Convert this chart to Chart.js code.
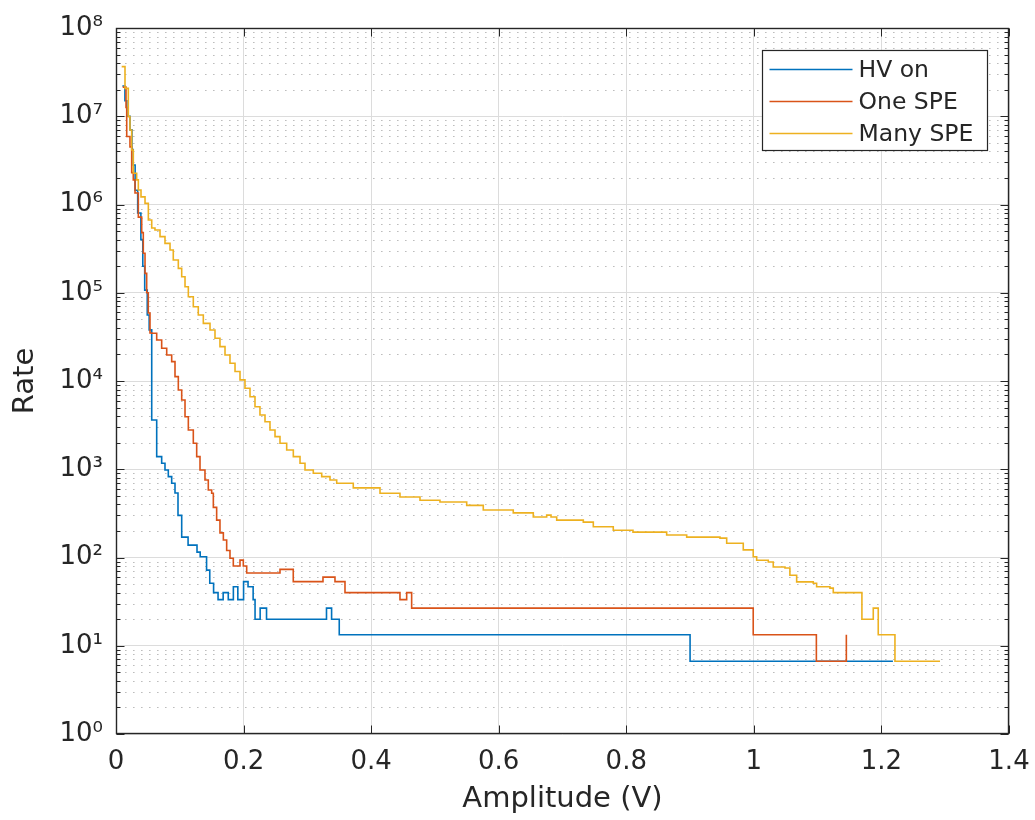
<!DOCTYPE html>
<html>
<head>
<meta charset="utf-8">
<script src="https://cdn.jsdelivr.net/npm/chart.js@4.4.1/dist/chart.umd.min.js"></script>
<style>
html,body{margin:0;padding:0;background:#ffffff;}
#wrap{width:1035px;height:820px;position:relative;}
</style>
</head>
<body>
<div id="wrap"><canvas id="c" width="1035" height="820"></canvas></div>
<script>
// ---------- data ----------
const seriesLabels = ['HV on', 'One SPE', 'Many SPE'];
const seriesColors = ['#0072BD', '#D95319', '#EDB120'];

const hvX = [0.010, 0.014, 0.017, 0.022, 0.025, 0.027, 0.030, 0.034, 0.039, 0.042, 0.045, 0.049, 0.052, 0.056, 0.0638, 0.0716, 0.0768, 0.082, 0.0873, 0.0925, 0.0972, 0.103, 0.113, 0.127, 0.132, 0.142, 0.147, 0.153, 0.160, 0.168, 0.176, 0.184, 0.191, 0.200, 0.207, 0.215, 0.218, 0.226, 0.236, 0.330, 0.338, 0.350, 0.900, 1.218];
const hvY = [2.2e7, 1.5e7, 1.0e7, 7e6, 4.2e6, 2.8e6, 1.45e6, 8e5, 4e5, 2e5, 1.07e5, 5.6e4, 3.8e4, 3610, 1390, 1170, 981, 824, 693, 538, 300, 170, 138, 115, 102, 72, 51, 40, 33.3, 40, 33.3, 46.7, 33.3, 53.3, 46.7, 33.3, 20, 26.7, 20, 26.7, 20, 13.3, 6.67, 6.67];

const oneX = [0.0105, 0.0157, 0.0168, 0.0219, 0.0246, 0.0271, 0.0298, 0.035, 0.0403, 0.0428, 0.0455, 0.0481, 0.0506, 0.0533, 0.056, 0.0638, 0.0716, 0.0795, 0.0873, 0.0925, 0.0977, 0.103, 0.1082, 0.1134, 0.1212, 0.1265, 0.1317, 0.1395, 0.1447, 0.15, 0.1526, 0.1578, 0.163, 0.1683, 0.1735, 0.1787, 0.1839, 0.1944, 0.1996, 0.2049, 0.2571, 0.2779, 0.3245, 0.3433, 0.359, 0.4452, 0.4557, 0.4635, 0.999, 1.098, 1.145];
const oneY = [2.14e7, 1.26e7, 5.9e6, 4.5e6, 2.3e6, 1.9e6, 1.35e6, 7.2e5, 4.8e5, 2.8e5, 1.66e5, 1e5, 5.9e4, 3.5e4, 3.47e4, 2.92e4, 2.35e4, 1.97e4, 1.66e4, 1.12e4, 7900, 6100, 3940, 2790, 1970, 1390, 981, 755, 582, 534, 370, 265, 190, 158, 120, 98, 80, 93.3, 80, 66.7, 73.3, 53.3, 60, 53.3, 40, 33.3, 40, 26.7, 13.3, 6.67, 13.3];

const manyX = [0.0089, 0.0141, 0.0193, 0.0219, 0.0246, 0.0271, 0.0324, 0.035, 0.0392, 0.0455, 0.0507, 0.056, 0.0611, 0.069, 0.0768, 0.0847, 0.0898, 0.0977, 0.103, 0.1082, 0.1134, 0.1212, 0.129, 0.1369, 0.1474, 0.1552, 0.163, 0.1709, 0.1787, 0.1866, 0.1944, 0.2022, 0.2101, 0.2179, 0.2257, 0.2336, 0.2414, 0.2493, 0.2571, 0.2676, 0.278, 0.2885, 0.2963, 0.3093, 0.3225, 0.3355, 0.346, 0.372, 0.4139, 0.4452, 0.4766, 0.5079, 0.5498, 0.5758, 0.6228, 0.6542, 0.6752, 0.682, 0.6909, 0.7326, 0.7483, 0.7796, 0.8105, 0.8633, 0.8947, 0.9469, 0.9574, 0.9834, 0.999, 1.0044, 1.0226, 1.0304, 1.0488, 1.0565, 1.0671, 1.0931, 1.0984, 1.1193, 1.1245, 1.1694, 1.1872, 1.195, 1.2212, 1.2918];
const manyY = [3.65e7, 2.07e7, 9.9e6, 6.98e6, 4.15e6, 2.26e6, 1.9e6, 1.46e6, 1.22e6, 1.03e6, 6.67e5, 5.42e5, 5.14e5, 4.32e5, 3.63e5, 3.05e5, 2.35e5, 1.89e5, 1.52e5, 1.17e5, 9.0e4, 6.95e4, 5.6e4, 4.5e4, 3.78e4, 3.05e4, 2.45e4, 1.97e4, 1.59e4, 1.28e4, 1.03e4, 8270, 6630, 5110, 4120, 3460, 2790, 2340, 1970, 1650, 1390, 1170, 981, 900, 824, 755, 693, 615, 535, 485, 445, 425, 390, 345, 320, 288, 302, 288, 265, 252, 223, 204, 194, 180, 170, 166, 145, 122, 102, 93, 89, 78, 76, 63, 53, 51, 46.7, 45, 40, 20, 26.7, 13.3, 6.67, 6.67];

const xTickValues = [0, 0.2, 0.4, 0.6, 0.8, 1.0, 1.2, 1.4];
const yTickExponents = [0, 1, 2, 3, 4, 5, 6, 7, 8];
const xTitle = 'Amplitude (V)';
const yTitle = 'Rate';

// ---------- helpers ----------
const FONT = 'DejaVu Sans';
const TEXT = '#262626';
const SUP = {'0':'\u2070','1':'\u00B9','2':'\u00B2','3':'\u00B3','4':'\u2074','5':'\u2075','6':'\u2076','7':'\u2077','8':'\u2078','9':'\u2079'};
function toPoints(xs, ys) { return xs.map((x, i) => ({x: x, y: ys[i]})); }
function supText(n) { return String(n).split('').map(c => SUP[c] || c).join(''); }

const matlabAxes = {
  id: 'matlabAxes',
  beforeDatasetsDraw(chart) {
    const {ctx, chartArea: a, scales: {y}} = chart;
    ctx.save();
    ctx.beginPath();
    ctx.rect(a.left, a.top, a.right - a.left, a.bottom - a.top);
    ctx.clip();
    ctx.strokeStyle = '#bdbdbd';
    ctx.lineWidth = 1;
    ctx.setLineDash([1.6, 6.4]);
    for (const e of yTickExponents.slice(0, -1)) {
      for (let k = 2; k <= 9; k++) {
        const py = Math.round(y.getPixelForValue(k * Math.pow(10, e))) + 0.5;
        ctx.beginPath();
        ctx.moveTo(a.left + 1, py);
        ctx.lineTo(a.right, py);
        ctx.stroke();
      }
    }
    ctx.restore();
  },
  afterDatasetsDraw(chart) {
    const {ctx, chartArea: a, scales: {x, y}} = chart;
    ctx.save();
    ctx.strokeStyle = TEXT;
    ctx.lineWidth = 1;
    ctx.setLineDash([]);
    const L = Math.round(a.left) + 0.5, R = Math.round(a.right) - 0.5;
    const T = Math.round(a.top) + 0.5, B = Math.round(a.bottom) - 0.5;
    ctx.beginPath();
    for (const e of yTickExponents) {
      const py = Math.round(y.getPixelForValue(Math.pow(10, e))) + 0.5;
      ctx.moveTo(L, py); ctx.lineTo(L + 8, py);
      ctx.moveTo(R, py); ctx.lineTo(R - 8, py);
      if (e < yTickExponents[yTickExponents.length - 1]) {
        for (let k = 2; k <= 9; k++) {
          const pm = Math.round(y.getPixelForValue(k * Math.pow(10, e))) + 0.5;
          ctx.moveTo(L, pm); ctx.lineTo(L + 4, pm);
          ctx.moveTo(R, pm); ctx.lineTo(R - 4, pm);
        }
      }
    }
    for (const v of xTickValues) {
      const px = Math.round(x.getPixelForValue(v)) + 0.5;
      ctx.moveTo(px, B); ctx.lineTo(px, B - 8);
      ctx.moveTo(px, T); ctx.lineTo(px, T + 8);
    }
    ctx.stroke();
    ctx.lineWidth = 1.4;
    ctx.strokeRect(L, T, R - L, B - T);
    ctx.restore();
  },
  afterDraw(chart) {
    const {ctx, chartArea: a} = chart;
    const w = 225, h = 100;
    const bx = Math.round(a.right - 22 - w) + 0.5, by = Math.round(a.top + 22) + 0.5;
    ctx.save();
    ctx.fillStyle = '#ffffff';
    ctx.fillRect(bx, by, w, h);
    ctx.strokeStyle = TEXT;
    ctx.lineWidth = 1.2;
    ctx.strokeRect(bx, by, w, h);
    ctx.font = '23.5px "' + FONT + '"';
    ctx.textBaseline = 'middle';
    ctx.textAlign = 'left';
    chart.data.datasets.forEach((ds, i) => {
      const ry = by + 19 + i * 32;
      ctx.strokeStyle = ds.borderColor;
      ctx.lineWidth = 1.6;
      ctx.beginPath();
      ctx.moveTo(bx + 7, ry); ctx.lineTo(bx + 90, ry);
      ctx.stroke();
      ctx.fillStyle = TEXT;
      ctx.fillText(ds.label, bx + 96, ry + 1);
    });
    ctx.restore();
  }
};

const seriesX = [hvX, oneX, manyX];
const seriesY = [hvY, oneY, manyY];
const datasets = seriesLabels.map((lab, i) => ({
  label: lab,
  data: toPoints(seriesX[i], seriesY[i]),
  borderColor: seriesColors[i],
  backgroundColor: seriesColors[i],
  borderWidth: 1.6,
  pointRadius: 0,
  pointHoverRadius: 0,
  stepped: 'before',
  fill: false,
  order: 3 - i
}));

new Chart(document.getElementById('c'), {
  type: 'line',
  data: { datasets: datasets },
  options: {
    responsive: false,
    animation: false,
    devicePixelRatio: 1,
    layout: { padding: { left: 0, top: 28, right: 26, bottom: 0 } },
    plugins: { legend: { display: false }, tooltip: { enabled: false } },
    scales: {
      x: {
        type: 'linear',
        min: 0, max: 1.4,
        afterBuildTicks(scale) { scale.ticks = xTickValues.map(v => ({value: v})); },
        afterFit(scale) { scale.height = 86; scale.paddingLeft = 0; scale.paddingRight = 0; },
        ticks: {
          color: TEXT,
          font: { family: FONT, size: 26 },
          padding: 13,
          maxRotation: 0,
          autoSkip: false,
          callback: (v) => String(+Number(v).toFixed(1))
        },
        grid: { color: '#dcdcdc', lineWidth: 1, drawTicks: false },
        border: { display: false },
        title: {
          display: true, text: xTitle, color: TEXT,
          font: { family: FONT, size: 29 },
          padding: { top: 0, bottom: 3 }
        }
      },
      y: {
        type: 'logarithmic',
        min: 1, max: 1e8,
        afterBuildTicks(scale) { scale.ticks = yTickExponents.map(e => ({value: Math.pow(10, e)})); },
        afterFit(scale) { scale.width = 116; scale.paddingTop = 0; scale.paddingBottom = 0; },
        ticks: {
          color: TEXT,
          font: { family: FONT, size: 26 },
          padding: 13,
          autoSkip: false,
          callback: (v) => '10' + supText(Math.round(Math.log10(v)))
        },
        grid: { color: '#dcdcdc', lineWidth: 1, drawTicks: false },
        border: { display: false },
        title: {
          display: true, text: yTitle, color: TEXT,
          font: { family: FONT, size: 29 },
          padding: { top: 8, bottom: 0 }
        }
      }
    }
  },
  plugins: [matlabAxes]
});
</script>
</body>
</html>
